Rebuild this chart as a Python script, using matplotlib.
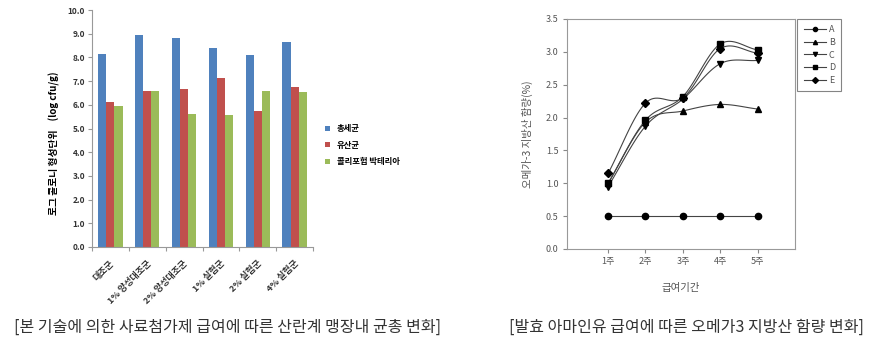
import numpy as np
import matplotlib
matplotlib.use("Agg")
import matplotlib.pyplot as plt
from matplotlib.lines import Line2D

plt.rcParams['font.family'] = ['Noto Sans CJK KR', 'DejaVu Sans']

# left chart: bacteria counts
groups = ['대조군', '1% 양성대조군', '2% 양성대조군', '1% 실험군', '2% 실험군', '4% 실험군']
total_bact = [8.15, 8.93, 8.80, 8.40, 8.12, 8.65]
lactic = [6.10, 6.60, 6.65, 7.15, 5.72, 6.75]
coliform = [5.97, 6.60, 5.63, 5.55, 6.60, 6.55]
bar_names = ['총세균', '유산균', '콜리포험 박테리아']
bar_colors = ['#4F81BD', '#C0504D', '#9BBB59']

# right chart: omega-3 content
weeks = ['1주', '2주', '3주', '4주', '5주']
series_a = [0.50, 0.50, 0.50, 0.50, 0.50]
series_b = [1.00, 1.93, 2.10, 2.20, 2.13]
series_c = [0.95, 1.87, 2.28, 2.82, 2.87]
series_d = [1.00, 1.96, 2.32, 3.12, 3.03]
series_e = [1.15, 2.22, 2.30, 3.05, 2.98]
line_names = ['A', 'B', 'C', 'D', 'E']
line_markers = ['o', '^', 'v', 's', 'D']


def smooth(x, y, n=20):
    # catmull-rom curve through the points (drawing only)
    x = np.asarray(x, float)
    y = np.asarray(y, float)
    px = np.concatenate([[2 * x[0] - x[1]], x, [2 * x[-1] - x[-2]]])
    py = np.concatenate([[2 * y[0] - y[1]], y, [2 * y[-1] - y[-2]]])
    xs, ys = [], []
    t = np.linspace(0, 1, n)
    for i in range(1, len(px) - 2):
        for p, out in ((px, xs), (py, ys)):
            p0, p1, p2, p3 = p[i - 1], p[i], p[i + 1], p[i + 2]
            out.extend(0.5 * (2 * p1 + (-p0 + p2) * t
                              + (2 * p0 - 5 * p1 + 4 * p2 - p3) * t ** 2
                              + (-p0 + 3 * p1 - 3 * p2 + p3) * t ** 3))
    return xs, ys


fig = plt.figure(figsize=(8.71, 3.44), dpi=100)

# ---- left bar chart
ax1 = fig.add_axes([92 / 871, 1 - 247 / 344, 221 / 871, 237 / 344])
x = np.arange(len(groups))
w = 0.22
for i, (vals, c, nm) in enumerate(zip([total_bact, lactic, coliform], bar_colors, bar_names)):
    ax1.bar(x + (i - 1) * w, vals, w, color=c, label=nm)
ax1.set_xlim(-0.5, len(groups) - 0.5)
ax1.set_ylim(0, 10)
ax1.set_yticks(np.arange(0, 10.1, 1.0))
ax1.set_yticklabels(['%.1f' % v for v in np.arange(0, 10.1, 1.0)],
                    fontsize=6, fontweight='bold', color='#333333')
ax1.set_xticks(np.arange(-0.5, len(groups), 1.0))
ax1.set_xticklabels([])
ax1.tick_params(axis='both', length=3, width=0.8, color='#999999', pad=2)
for i, g in enumerate(groups):
    ax1.text(i + 0.15, -0.5, g, rotation=45, ha='right', va='top',
             fontsize=6.5, fontweight='bold', color='#333333')
for s in ['top', 'right']:
    ax1.spines[s].set_visible(False)
for s in ['left', 'bottom']:
    ax1.spines[s].set_color('#999999')
ax1.set_ylabel('로그 콜로니 형성단위    (log cfu/g)', fontsize=7,
               fontweight='bold')
ax1.yaxis.set_label_coords(-0.145, 0.44)
ax1.legend(loc='center left', bbox_to_anchor=(1.02, 0.43), frameon=False,
           handlelength=0.6, handleheight=0.6, labelspacing=0.9,
           prop={'weight': 'bold', 'size': 6})

# ---- right line chart
ax2 = fig.add_axes([567 / 871, 1 - 249 / 344, 228 / 871, 230 / 344])
xs = np.arange(1, 6)
handles = []
for vals, mk in zip([series_a, series_b, series_c, series_d, series_e], line_markers):
    sx, sy = smooth(xs, vals)
    ax2.plot(sx, sy, color='#444444', lw=0.8)
    ms = 4.5 if mk != 'D' else 4
    ax2.plot(xs, vals, linestyle='none', marker=mk, color='black', ms=ms)
    handles.append(Line2D([], [], color='#444444', lw=0.8, marker=mk,
                          markerfacecolor='black', markeredgecolor='black', ms=3))
ax2.set_xlim(-0.1, 6.0)
ax2.set_ylim(0, 3.5)
ax2.set_xticks(xs)
ax2.set_xticklabels(weeks, fontsize=6.5, color='#555555')
ax2.set_yticks(np.arange(0, 3.6, 0.5))
ax2.set_yticklabels(['%.1f' % v for v in np.arange(0, 3.6, 0.5)],
                    fontsize=6.5, color='#555555')
ax2.tick_params(axis='both', length=3, width=0.8, color='#888888', pad=3)
for s in ax2.spines.values():
    s.set_color('#999999')
ax2.set_xlabel('급여기간', fontsize=7.5, color='#555555', labelpad=12)
ax2.set_ylabel('오메가-3 지방산 함량(%)', fontsize=7.5, color='#555555', labelpad=9)
leg = ax2.legend(handles, line_names, loc='upper left', bbox_to_anchor=(1.01, 1.0),
                 borderaxespad=0, fontsize=6.5, handlelength=2.5, labelspacing=0.4,
                 fancybox=False, borderpad=0.7, handletextpad=0.3)
leg.get_frame().set_edgecolor('#666666')
leg.get_frame().set_linewidth(0.8)
for t in leg.get_texts():
    t.set_color('#555555')

# captions
fig.text(227 / 871, 1 - 327 / 344, '[본 기술에 의한 사료첨가제 급여에 따른 산란계 맹장내 균총 변화]',
         ha='center', va='center', fontsize=11.5, color='#333333')
fig.text(686 / 871, 1 - 327 / 344, '[발효 아마인유 급여에 따른 오메가3 지방산 함량 변화]',
         ha='center', va='center', fontsize=11.5, color='#333333')

fig.savefig('out.png', dpi=100)
